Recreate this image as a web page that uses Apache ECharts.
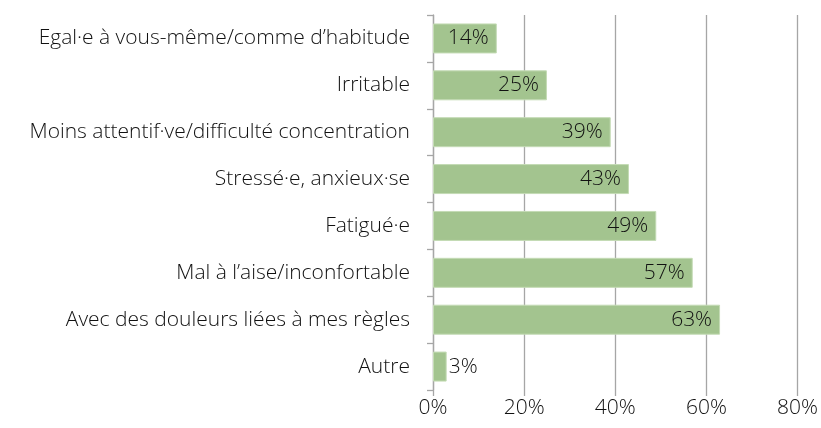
<!DOCTYPE html>
<html>
<head>
<meta charset="utf-8">
<script src="https://cdn.jsdelivr.net/npm/echarts@6/dist/echarts.min.js"></script>
<style>
html, body { margin: 0; padding: 0; background: #fff; }
#main { width: 821px; height: 428px; }
</style>
</head>
<body>
<div id="main"></div>
<script>
// 类目（从上到下）
var categories = [
    'Egal·e à vous-même/comme d’habitude',
    'Irritable',
    'Moins attentif·ve/difficulté concentration',
    'Stressé·e, anxieux·se',
    'Fatigué·e',
    'Mal à l’aise/inconfortable',
    'Avec des douleurs liées à mes règles',
    'Autre'
];
// 百分比数值
var values = [14, 25, 39, 43, 49, 57, 63, 3];
var xTicks = [0, 20, 40, 60, 80];

var myChart = echarts.init(document.getElementById('main'));

var fontFamily = '"Open Sans", "Noto Sans", sans-serif';

var option = {
    animation: false,
    grid: {
        left: 433,
        right: 23,
        top: 15,
        bottom: 38,
        containLabel: false
    },
    xAxis: {
        type: 'value',
        min: xTicks[0],
        max: xTicks[xTicks.length - 1],
        interval: 20,
        axisLine: { show: false },
        axisTick: {
            show: true,
            length: 6,
            lineStyle: { color: '#a6a6a6', width: 1.3 }
        },
        splitLine: {
            show: true,
            lineStyle: { color: '#a6a6a6', width: 1.3 }
        },
        axisLabel: {
            formatter: '{value}%',
            color: '#111',
            fontSize: 21,
            fontWeight: 300,
            fontFamily: fontFamily,
            margin: 8
        }
    },
    yAxis: {
        type: 'category',
        inverse: true,
        data: categories,
        axisLine: {
            show: true,
            lineStyle: { color: '#a6a6a6', width: 1.3 }
        },
        axisTick: {
            show: true,
            length: 6,
            lineStyle: { color: '#a6a6a6', width: 1.3 }
        },
        axisLabel: {
            color: '#111',
            fontSize: 21,
            fontWeight: 300,
            fontFamily: fontFamily,
            margin: 23
        }
    },
    series: [
        {
            type: 'bar',
            data: values.map(function (v) {
                return {
                    value: v,
                    label: v < 10 ? { position: 'right', distance: 2 } : {}
                };
            }),
            barCategoryGap: '36%',
            itemStyle: {
                color: '#a3c48f',
                borderColor: '#c4dbb5',
                borderWidth: 1
            },
            label: {
                show: true,
                position: 'insideRight',
                distance: 8,
                formatter: '{c}%',
                color: '#111',
                fontSize: 21,
                fontWeight: 300,
                fontFamily: fontFamily
            }
        }
    ]
};

myChart.setOption(option);
window.onresize = myChart.resize;
</script>
</body>
</html>
